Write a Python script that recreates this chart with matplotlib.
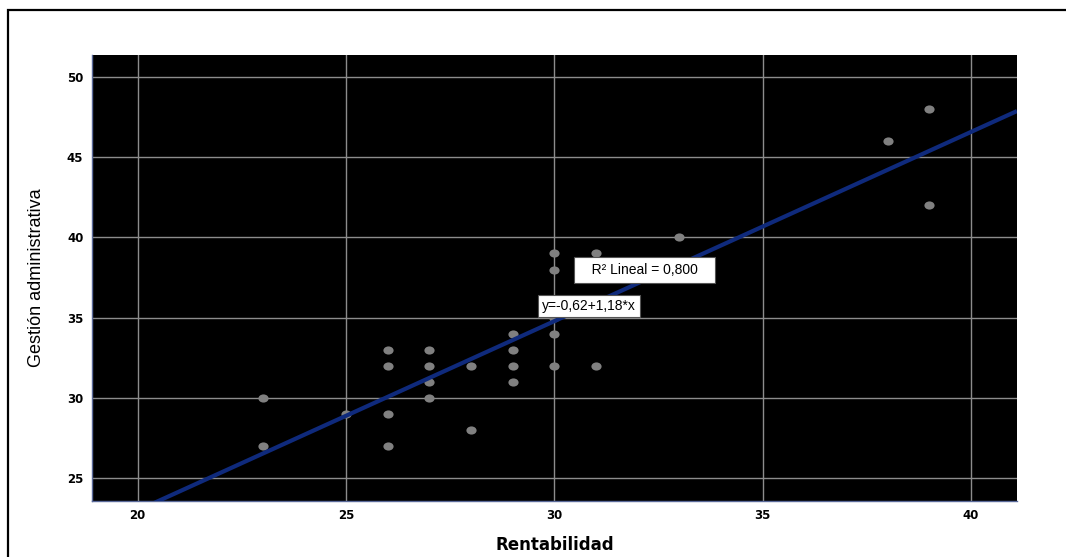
import numpy as np
import matplotlib.pyplot as plt
from matplotlib.patches import Rectangle
from matplotlib.path import Path
from matplotlib.transforms import Affine2D

# Rentabilidad (x) vs Gestión administrativa (y)
rentabilidad = [23, 23, 25, 26, 26, 26, 26, 27, 27, 27, 27, 28, 28,
                29, 29, 29, 29, 30, 30, 30, 30, 30, 31, 31, 33, 38, 39, 39]
gestion = [30, 27, 29, 33, 32, 29, 27, 33, 32, 31, 30, 32, 28,
           34, 33, 32, 31, 39, 38, 35, 34, 32, 39, 32, 40, 46, 48, 42]

# fitted line as printed on the chart
intercept = -0.62
slope = 1.18
r2_text = "R² Lineal = 0,800"
eq_text = "y=-0,62+1,18*x"

xticks = [20, 25, 30, 35, 40]
yticks = [25, 30, 35, 40, 45, 50]

fig = plt.figure(figsize=(10.66, 5.57), dpi=100)
ax = fig.add_axes([0.0860, 0.1005, 0.8680, 0.8007])
ax.set_facecolor("black")

ax.set_xlim(18.90, 41.10)
ax.set_ylim(23.57, 51.37)
ax.set_xticks(xticks)
ax.set_yticks(yticks)
ax.grid(True, color="#8c8c8c", lw=1.0)
ax.set_axisbelow(True)
ax.tick_params(length=0, labelsize=8.5)
ax.tick_params(axis="x", pad=5.5)
ax.tick_params(axis="y", pad=6)
for lab in ax.get_xticklabels() + ax.get_yticklabels():
    lab.set_fontweight("bold")

for s in ("top", "right"):
    ax.spines[s].set_visible(False)
for s in ("left", "bottom"):
    ax.spines[s].set_color("#5a6a9a")
    ax.spines[s].set_linewidth(1.0)

# slightly wide dots like the source export
dot = Path.unit_circle().transformed(Affine2D().scale(1.25, 1.0))
ax.scatter(rentabilidad, gestion, s=54, marker=dot, color="#808080",
           zorder=3, linewidths=0)

xl = np.array(ax.get_xlim())
ax.plot(xl, intercept + slope * xl, color="#0f2a7c", lw=3.0, zorder=4,
        solid_capstyle="butt")

ax.text(32.16, 37.97, "   " + r2_text + "   ", fontsize=10,
        family="Liberation Sans", ha="center", va="center", zorder=5,
        bbox=dict(boxstyle="square,pad=0.4", fc="white", ec="#555555", lw=0.8))
ax.text(30.84, 35.72, eq_text, fontsize=10, family="Liberation Sans",
        ha="center", va="center", zorder=5,
        bbox=dict(boxstyle="square,pad=0.3", fc="white", ec="#555555", lw=0.8))

ax.set_xlabel("Rentabilidad", fontsize=12, fontweight="bold", va="top")
ax.xaxis.set_label_coords(0.5, -0.0785)
ax.set_ylabel("Gestión administrativa", fontsize=13, family="Liberation Sans")
ax.yaxis.set_label_coords(-0.0505, 0.5)

# outer frame of the exported chart (runs past right/bottom edges)
fig.add_artist(Rectangle((8 / 1066, -0.05), 1.1, 1 - 10 / 557 + 0.05,
                         transform=fig.transFigure, fill=False,
                         ec="black", lw=1.6))

fig.savefig("out.png", dpi=100)
